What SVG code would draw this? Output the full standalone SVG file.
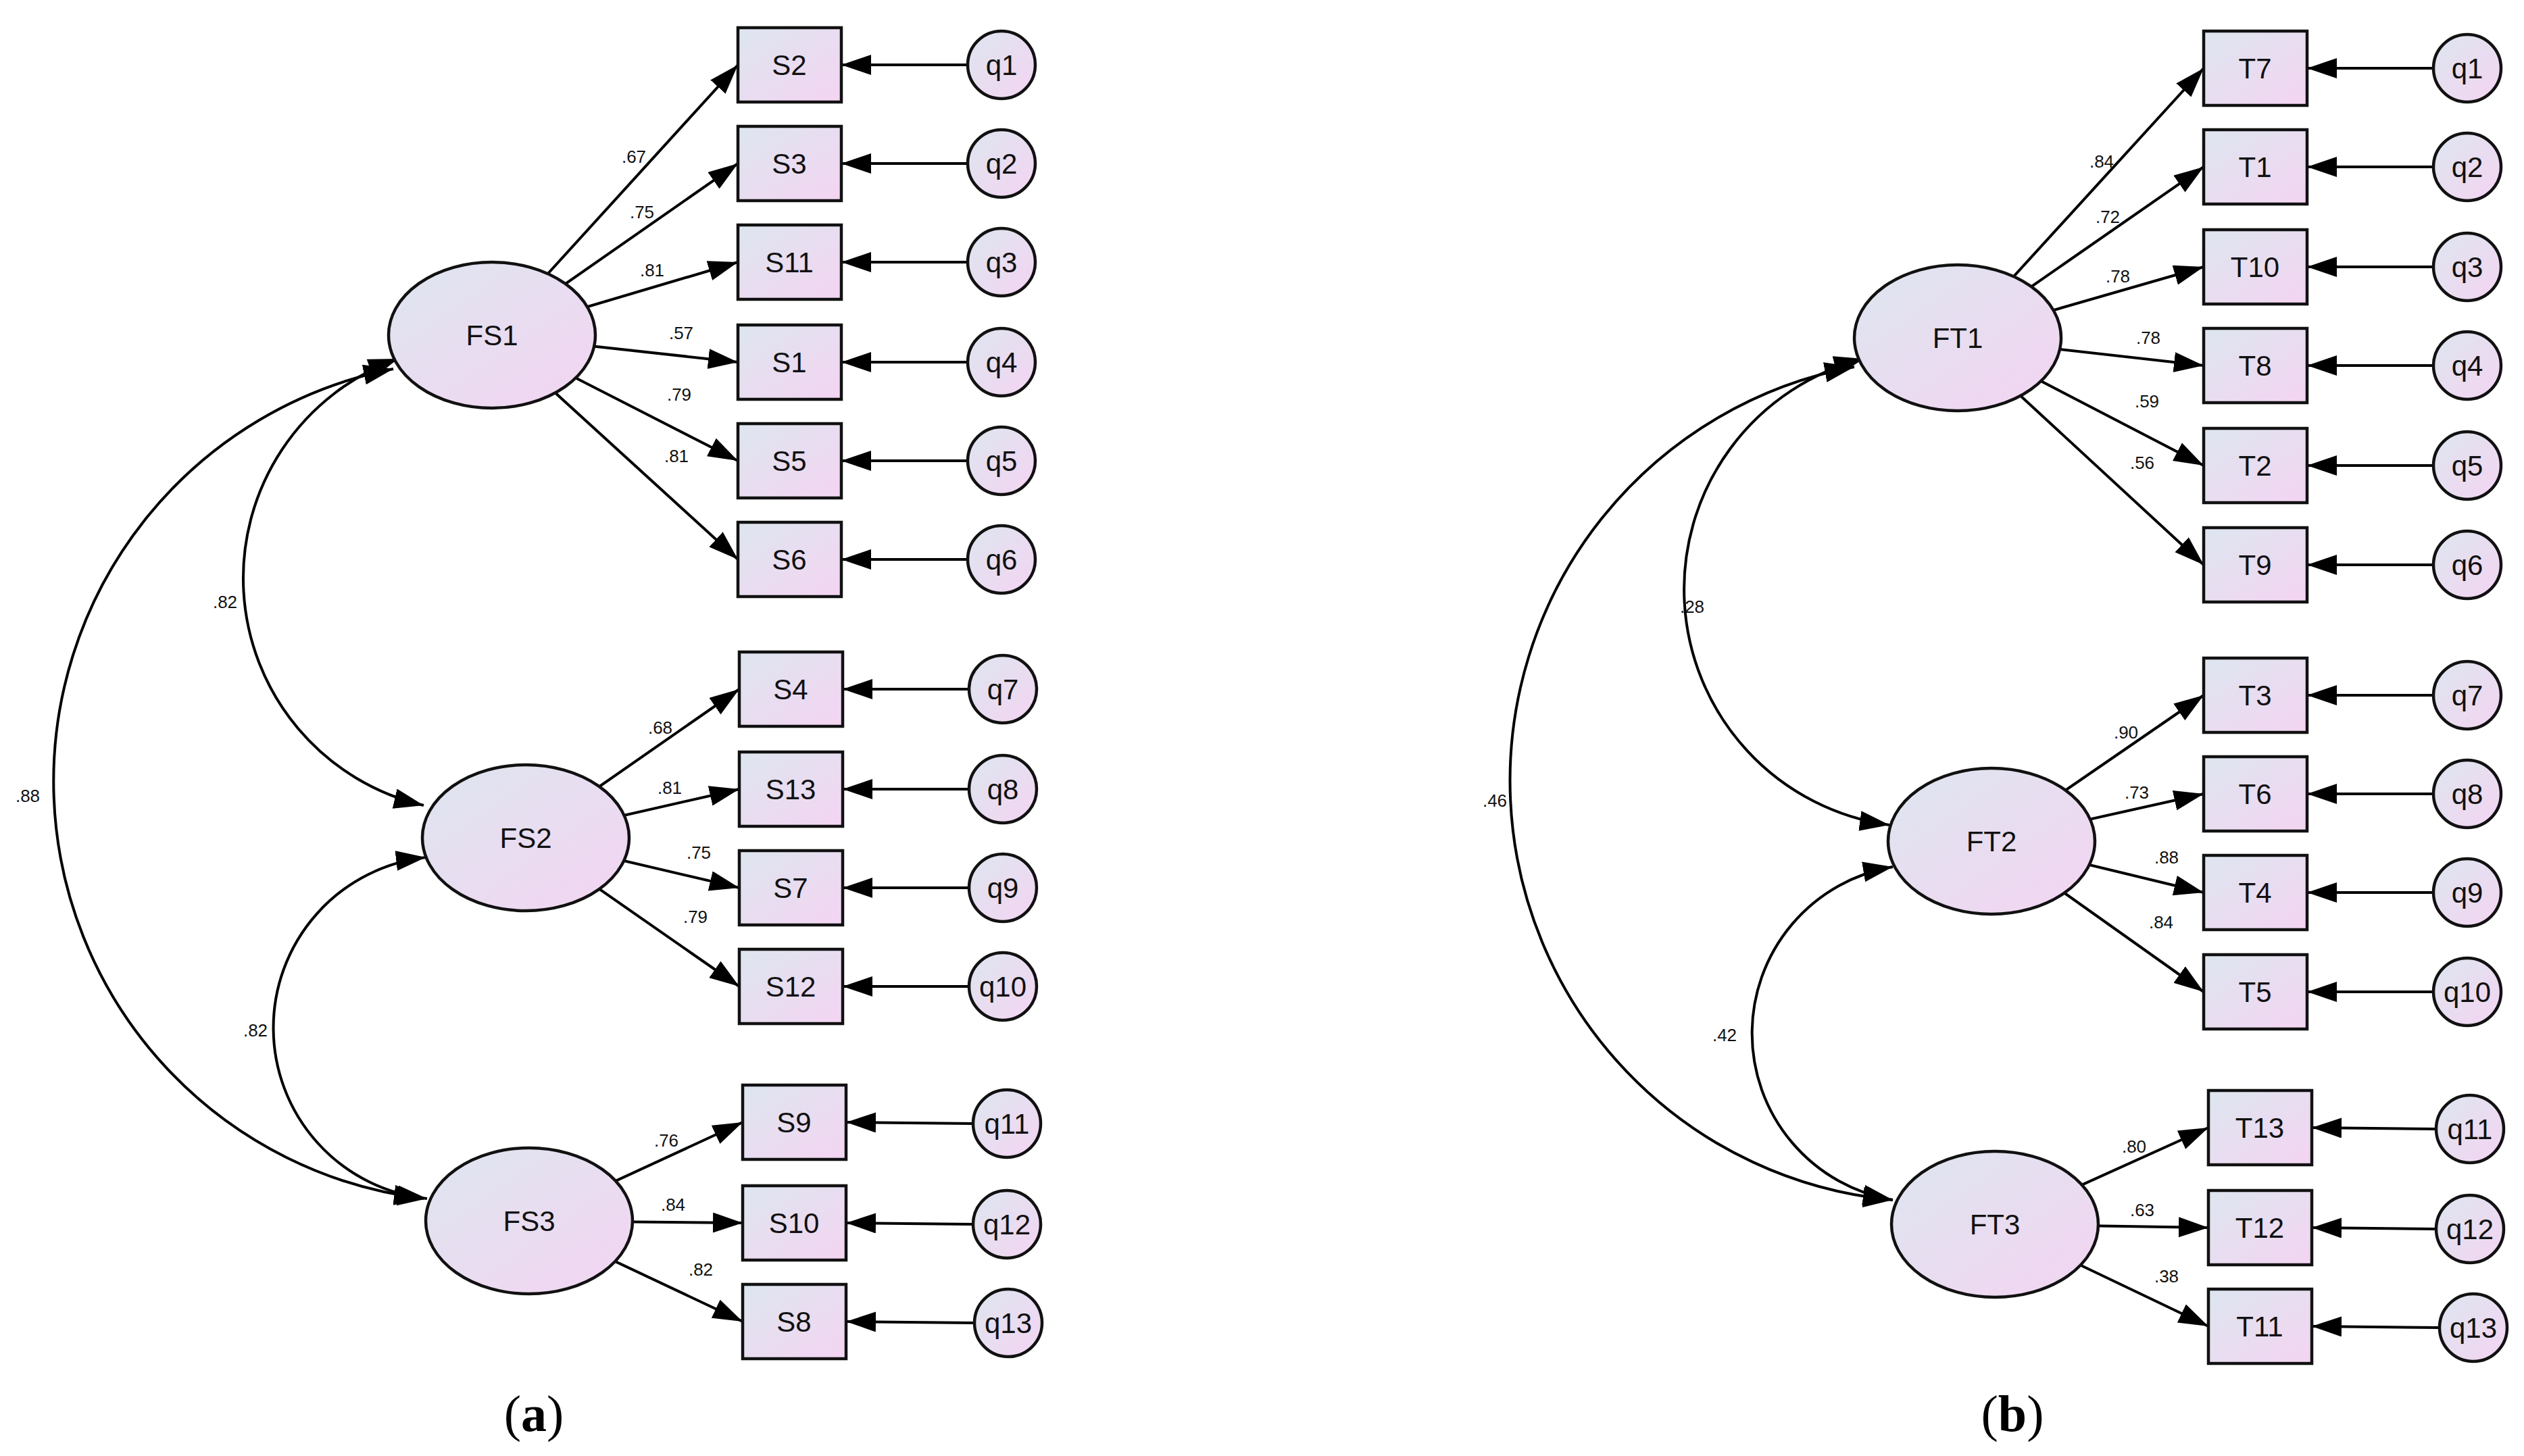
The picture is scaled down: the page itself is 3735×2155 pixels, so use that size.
<svg xmlns="http://www.w3.org/2000/svg" width="3735" height="2155" viewBox="0 0 3735 2155">
<style>
.c{fill:none;stroke:#000;stroke-width:4}
.n{fill:url(#g);stroke:#111;stroke-width:4.5}
.t{font-family:"Liberation Sans",Arial,sans-serif;font-size:42px;text-anchor:middle;dominant-baseline:central;fill:#111}
.l{font-family:"Liberation Sans",Arial,sans-serif;font-size:26px;text-anchor:middle;fill:#111}
.cap{font-family:"Liberation Serif",serif;font-size:76px;text-anchor:middle}
</style>
<defs>
<linearGradient id="g" x1="0" y1="0" x2="1" y2="1"><stop offset="0" stop-color="#dde6ef"/><stop offset="1" stop-color="#f4d4f2"/></linearGradient>
<marker id="a" markerUnits="userSpaceOnUse" markerWidth="46" markerHeight="32" refX="44" refY="15" orient="auto-start-reverse"><path d="M0,0 L44,15 L0,30 Z" fill="#000"/></marker>
</defs>
<g id="connectors">
<!-- left loadings -->
<g marker-end="url(#a)" class="c">
<path d="M728,496 L1092,96"/><path d="M728,496 L1092,242"/><path d="M728,496 L1092,388"/><path d="M728,496 L1092,536"/><path d="M728,496 L1092,682"/><path d="M728,496 L1092,828"/>
<path d="M778,1240 L1094,1020"/><path d="M778,1240 L1094,1168"/><path d="M778,1240 L1094,1314"/><path d="M778,1240 L1094,1460"/>
<path d="M783,1807 L1099,1661"/><path d="M783,1807 L1099,1810"/><path d="M783,1807 L1099,1956"/>
<path d="M2897,500 L3261,101"/><path d="M2897,500 L3261,247"/><path d="M2897,500 L3261,395"/><path d="M2897,500 L3261,541"/><path d="M2897,500 L3261,689"/><path d="M2897,500 L3261,836"/>
<path d="M2947,1245 L3261,1029"/><path d="M2947,1245 L3261,1175"/><path d="M2947,1245 L3261,1321"/><path d="M2947,1245 L3261,1468"/>
<path d="M2952,1812 L3268,1669"/><path d="M2952,1812 L3268,1817"/><path d="M2952,1812 L3268,1963"/>
<!-- errors -->
<path d="M1432,96 L1245,96"/><path d="M1432,242 L1245,242"/><path d="M1432,388 L1245,388"/><path d="M1432,536 L1245,536"/><path d="M1432,682 L1245,682"/><path d="M1432,828 L1245,828"/>
<path d="M1434,1020 L1247,1020"/><path d="M1434,1168 L1247,1168"/><path d="M1434,1314 L1247,1314"/><path d="M1434,1460 L1247,1460"/>
<path d="M1440,1663 L1252,1661"/><path d="M1440,1812 L1252,1810"/><path d="M1442,1958 L1252,1956"/>
<path d="M3601,101 L3414,101"/><path d="M3601,247 L3414,247"/><path d="M3601,395 L3414,395"/><path d="M3601,541 L3414,541"/><path d="M3601,689 L3414,689"/><path d="M3601,836 L3414,836"/>
<path d="M3601,1029 L3414,1029"/><path d="M3601,1175 L3414,1175"/><path d="M3601,1321 L3414,1321"/><path d="M3601,1468 L3414,1468"/>
<path d="M3605,1671 L3421,1669"/><path d="M3605,1819 L3421,1817"/><path d="M3610,1965 L3421,1963"/>
</g>
<g class="c" marker-start="url(#a)" marker-end="url(#a)">
<path d="M582,546 A622,622 0 0 0 627,1774"/>
<path d="M589,531 A345,345 0 0 0 627,1192"/>
<path d="M630,1269 A254,254 0 0 0 632,1774"/>
<path d="M2744,543 A623,623 0 0 0 2801,1776"/>
<path d="M2758,531 A352,352 0 0 0 2796,1221"/>
<path d="M2801,1283 A250,250 0 0 0 2801,1776"/>
</g>
<g class="l">
<text x="333" y="900">.82</text><text x="41" y="1187">.88</text><text x="378" y="1534">.82</text>
<text x="2504" y="907">.28</text><text x="2212" y="1194">.46</text><text x="2552" y="1541">.42</text>
<text x="938" y="241">.67</text><text x="950" y="323">.75</text><text x="965" y="409">.81</text><text x="1008" y="502">.57</text><text x="1005" y="593">.79</text><text x="1001" y="684">.81</text>
<text x="977" y="1086">.68</text><text x="991" y="1175">.81</text><text x="1034" y="1271">.75</text><text x="1029" y="1366">.79</text>
<text x="986" y="1697">.76</text><text x="996" y="1792">.84</text><text x="1037" y="1888">.82</text>
<text x="3110" y="248">.84</text><text x="3119" y="330">.72</text><text x="3134" y="418">.78</text><text x="3179" y="509">.78</text><text x="3177" y="603">.59</text><text x="3170" y="694">.56</text>
<text x="3146" y="1093">.90</text><text x="3162" y="1182">.73</text><text x="3206" y="1278">.88</text><text x="3198" y="1374">.84</text>
<text x="3158" y="1706">.80</text><text x="3170" y="1800">.63</text><text x="3206" y="1898">.38</text>
</g>
</g>
<g id="FS1"><ellipse class="n" cx="728" cy="496" rx="153" ry="108"/><text class="t" x="728" y="496">FS1</text></g>
<g id="FS2"><ellipse class="n" cx="778" cy="1240" rx="153" ry="108"/><text class="t" x="778" y="1240">FS2</text></g>
<g id="FS3"><ellipse class="n" cx="783" cy="1807" rx="153" ry="108"/><text class="t" x="783" y="1807">FS3</text></g>
<g id="FT1"><ellipse class="n" cx="2897" cy="500" rx="153" ry="108"/><text class="t" x="2897" y="500">FT1</text></g>
<g id="FT2"><ellipse class="n" cx="2947" cy="1245" rx="153" ry="108"/><text class="t" x="2947" y="1245">FT2</text></g>
<g id="FT3"><ellipse class="n" cx="2952" cy="1812" rx="153" ry="108"/><text class="t" x="2952" y="1812">FT3</text></g>
<g id="S2"><rect class="n" x="1092" y="41" width="153" height="110"/><text class="t" x="1168" y="96">S2</text></g>
<g id="S3"><rect class="n" x="1092" y="187" width="153" height="110"/><text class="t" x="1168" y="242">S3</text></g>
<g id="S11"><rect class="n" x="1092" y="333" width="153" height="110"/><text class="t" x="1168" y="388">S11</text></g>
<g id="S1"><rect class="n" x="1092" y="481" width="153" height="110"/><text class="t" x="1168" y="536">S1</text></g>
<g id="S5"><rect class="n" x="1092" y="627" width="153" height="110"/><text class="t" x="1168" y="682">S5</text></g>
<g id="S6"><rect class="n" x="1092" y="773" width="153" height="110"/><text class="t" x="1168" y="828">S6</text></g>
<g id="S4"><rect class="n" x="1094" y="965" width="153" height="110"/><text class="t" x="1170" y="1020">S4</text></g>
<g id="S13"><rect class="n" x="1094" y="1113" width="153" height="110"/><text class="t" x="1170" y="1168">S13</text></g>
<g id="S7"><rect class="n" x="1094" y="1259" width="153" height="110"/><text class="t" x="1170" y="1314">S7</text></g>
<g id="S12"><rect class="n" x="1094" y="1405" width="153" height="110"/><text class="t" x="1170" y="1460">S12</text></g>
<g id="S9"><rect class="n" x="1099" y="1606" width="153" height="110"/><text class="t" x="1175" y="1661">S9</text></g>
<g id="S10"><rect class="n" x="1099" y="1755" width="153" height="110"/><text class="t" x="1175" y="1810">S10</text></g>
<g id="S8"><rect class="n" x="1099" y="1901" width="153" height="110"/><text class="t" x="1175" y="1956">S8</text></g>
<g id="T7"><rect class="n" x="3261" y="46" width="153" height="110"/><text class="t" x="3337" y="101">T7</text></g>
<g id="T1"><rect class="n" x="3261" y="192" width="153" height="110"/><text class="t" x="3337" y="247">T1</text></g>
<g id="T10"><rect class="n" x="3261" y="340" width="153" height="110"/><text class="t" x="3337" y="395">T10</text></g>
<g id="T8"><rect class="n" x="3261" y="486" width="153" height="110"/><text class="t" x="3337" y="541">T8</text></g>
<g id="T2"><rect class="n" x="3261" y="634" width="153" height="110"/><text class="t" x="3337" y="689">T2</text></g>
<g id="T9"><rect class="n" x="3261" y="781" width="153" height="110"/><text class="t" x="3337" y="836">T9</text></g>
<g id="T3"><rect class="n" x="3261" y="974" width="153" height="110"/><text class="t" x="3337" y="1029">T3</text></g>
<g id="T6"><rect class="n" x="3261" y="1120" width="153" height="110"/><text class="t" x="3337" y="1175">T6</text></g>
<g id="T4"><rect class="n" x="3261" y="1266" width="153" height="110"/><text class="t" x="3337" y="1321">T4</text></g>
<g id="T5"><rect class="n" x="3261" y="1413" width="153" height="110"/><text class="t" x="3337" y="1468">T5</text></g>
<g id="T13"><rect class="n" x="3268" y="1614" width="153" height="110"/><text class="t" x="3344" y="1669">T13</text></g>
<g id="T12"><rect class="n" x="3268" y="1762" width="153" height="110"/><text class="t" x="3344" y="1817">T12</text></g>
<g id="T11"><rect class="n" x="3268" y="1908" width="153" height="110"/><text class="t" x="3344" y="1963">T11</text></g>
<g id="qa1"><circle class="n" cx="1482" cy="96" r="50"/><text class="t" x="1482" y="96">q1</text></g>
<g id="qa2"><circle class="n" cx="1482" cy="242" r="50"/><text class="t" x="1482" y="242">q2</text></g>
<g id="qa3"><circle class="n" cx="1482" cy="388" r="50"/><text class="t" x="1482" y="388">q3</text></g>
<g id="qa4"><circle class="n" cx="1482" cy="536" r="50"/><text class="t" x="1482" y="536">q4</text></g>
<g id="qa5"><circle class="n" cx="1482" cy="682" r="50"/><text class="t" x="1482" y="682">q5</text></g>
<g id="qa6"><circle class="n" cx="1482" cy="828" r="50"/><text class="t" x="1482" y="828">q6</text></g>
<g id="qa7"><circle class="n" cx="1484" cy="1020" r="50"/><text class="t" x="1484" y="1020">q7</text></g>
<g id="qa8"><circle class="n" cx="1484" cy="1168" r="50"/><text class="t" x="1484" y="1168">q8</text></g>
<g id="qa9"><circle class="n" cx="1484" cy="1314" r="50"/><text class="t" x="1484" y="1314">q9</text></g>
<g id="qa10"><circle class="n" cx="1484" cy="1460" r="50"/><text class="t" x="1484" y="1460">q10</text></g>
<g id="qa11"><circle class="n" cx="1490" cy="1663" r="50"/><text class="t" x="1490" y="1663">q11</text></g>
<g id="qa12"><circle class="n" cx="1490" cy="1812" r="50"/><text class="t" x="1490" y="1812">q12</text></g>
<g id="qa13"><circle class="n" cx="1492" cy="1958" r="50"/><text class="t" x="1492" y="1958">q13</text></g>
<g id="qb1"><circle class="n" cx="3651" cy="101" r="50"/><text class="t" x="3651" y="101">q1</text></g>
<g id="qb2"><circle class="n" cx="3651" cy="247" r="50"/><text class="t" x="3651" y="247">q2</text></g>
<g id="qb3"><circle class="n" cx="3651" cy="395" r="50"/><text class="t" x="3651" y="395">q3</text></g>
<g id="qb4"><circle class="n" cx="3651" cy="541" r="50"/><text class="t" x="3651" y="541">q4</text></g>
<g id="qb5"><circle class="n" cx="3651" cy="689" r="50"/><text class="t" x="3651" y="689">q5</text></g>
<g id="qb6"><circle class="n" cx="3651" cy="836" r="50"/><text class="t" x="3651" y="836">q6</text></g>
<g id="qb7"><circle class="n" cx="3651" cy="1029" r="50"/><text class="t" x="3651" y="1029">q7</text></g>
<g id="qb8"><circle class="n" cx="3651" cy="1175" r="50"/><text class="t" x="3651" y="1175">q8</text></g>
<g id="qb9"><circle class="n" cx="3651" cy="1321" r="50"/><text class="t" x="3651" y="1321">q9</text></g>
<g id="qb10"><circle class="n" cx="3651" cy="1468" r="50"/><text class="t" x="3651" y="1468">q10</text></g>
<g id="qb11"><circle class="n" cx="3655" cy="1671" r="50"/><text class="t" x="3655" y="1671">q11</text></g>
<g id="qb12"><circle class="n" cx="3655" cy="1819" r="50"/><text class="t" x="3655" y="1819">q12</text></g>
<g id="qb13"><circle class="n" cx="3660" cy="1965" r="50"/><text class="t" x="3660" y="1965">q13</text></g>
<text class="cap" x="790" y="2118">(<tspan font-weight="bold">a</tspan>)</text>
<text class="cap" x="2978" y="2118">(<tspan font-weight="bold">b</tspan>)</text>
</svg>
